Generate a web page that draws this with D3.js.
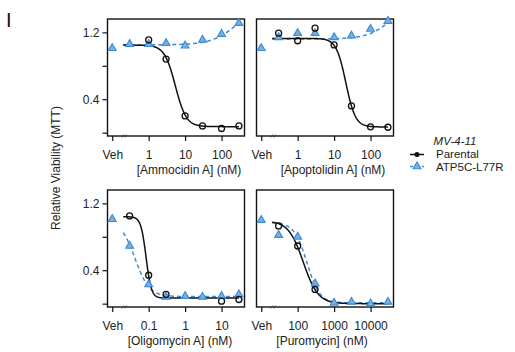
<!DOCTYPE html>
<html>
<head>
<meta charset="utf-8">
<script src="https://cdn.jsdelivr.net/npm/d3@7"></script>
<style>
  html, body { margin: 0; padding: 0; background: #fff; }
  svg { display: block; font-family: "Liberation Sans", Arial, Helvetica, sans-serif; }
</style>
</head>
<body>
<svg id="chart" width="515" height="352"></svg>
<script>
// Compound names and axis titles for the four panels
const compounds = ["Ammocidin A", "Apoptolidin A", "Oligomycin A", "Puromycin"];
const axisTitles = ["[Ammocidin A] (nM)", "[Apoptolidin A] (nM)", "[Oligomycin A] (nM)", "[Puromycin] (nM)"];

// Vehicle is plotted one decade below the first labelled tick
const vehPosition = [0.1, 0.1, 0.01, 10];
const decadeTicks = [[1, 10, 100], [1, 10, 100], [0.1, 1, 10], [100, 1000, 10000]];
const decadeLabels = [["1", "10", "100"], ["1", "10", "100"], ["0.1", "1", "10"], ["100", "1000", "10000"]];

// Doses (nM)
const dosesAmmo = [0.3, 1, 3, 10, 30, 100, 300];
const dosesApop = [0.3, 1, 3, 10, 30, 100, 300];
const dosesOligo = [0.03, 0.1, 0.3, 1, 3, 10, 30];
const dosesPuro = [30, 100, 300, 1000, 3000, 10000, 30000];

// Relative viability, Parental (null = not shown)
const parentalAmmo = [null, 1.11, 0.88, 0.20, 0.08, 0.05, 0.08];
const parentalApop = [1.19, 1.10, 1.25, 1.05, 0.32, 0.07, 0.065];
const parentalOligo = [1.05, 0.34, 0.11, null, null, 0.03, 0.05];
const parentalPuro = [0.93, 0.69, 0.17, null, null, null, null];

// Relative viability, ATP5C-L77R
const mutantAmmo = [1.06, 1.06, 1.07, 1.04, 1.11, 1.18, 1.31];
const mutantApop = [1.14, 1.19, 1.19, 1.14, 1.16, 1.24, 1.335];
const mutantOligo = [0.69, 0.23, 0.08, 0.09, 0.08, 0.09, 0.11];
const mutantPuro = [0.82, 0.80, 0.24, 0.01, 0.02, 0.00, 0.02];

// Vehicle-treated ATP5C-L77R
const mutantVeh = [1.01, 1.01, 1.01, 1.00];

// Four-parameter logistic fits: [low-dose response, high-dose response, IC50 (nM), Hill slope]
const fitParental = [
  [1.048, 0.072, 5.4, 2.9],
  [1.128, 0.068, 21, 3.3],
  [1.04, 0.067, 0.085, 6],
  [0.99, 0.0, 143, 2.15]
];
const fitMutant = [
  [1.05, 1.58, 300, 1.2],
  [1.12, 1.6, 400, 1.3],
  [1.0, 0.085, 0.042, 2.2],
  [0.97, 0.01, 180, 2.5]
];

// Y axis ticks
const yTicks = [0, 0.4, 0.8, 1.2];
const yTickLabels = ["", "0.4", "", "1.2"];

const doses = [dosesAmmo, dosesApop, dosesOligo, dosesPuro];
const parental = [parentalAmmo, parentalApop, parentalOligo, parentalPuro];
const mutant = [mutantAmmo, mutantApop, mutantOligo, mutantPuro];

const BLUE = "#3f8cd4";
const svg = d3.select("#chart");

const panelW = 137, panelH = 117;
const colX = [107.5, 256.5];
const rowY = [19, 190];
const titleDx = [13, 8, 4, -3];

function logistic(p, x) {
  const [a, d, c, b] = p;
  return d + (a - d) / (1 + Math.pow(x / c, b));
}

compounds.forEach((name, i) => {
  const x0 = colX[i % 2], y0 = rowY[Math.floor(i / 2)];
  const g = svg.append("g").attr("transform", `translate(${x0},${y0})`);
  const veh = vehPosition[i];

  const x = d3.scaleLog()
    .domain([veh * Math.pow(10, -0.13), veh * Math.pow(10, 3.63)])
    .range([0, panelW]);
  const y = d3.scaleLinear().domain([-0.04, 1.36]).range([panelH, 0]);

  // Frame
  g.append("rect")
    .attr("x", 0).attr("y", 0).attr("width", panelW).attr("height", panelH)
    .attr("fill", "none").attr("stroke", "#111").attr("stroke-width", 1.4);

  // Y axis
  const yAxis = d3.axisLeft(y).tickValues(yTicks).tickSize(5).tickPadding(3)
    .tickFormat((d, k) => (i % 2 === 0 ? yTickLabels[k] : ""));
  const ya = g.append("g").call(yAxis);
  ya.select(".domain").remove();
  ya.selectAll("line").attr("stroke", "#111").attr("stroke-width", 1.2);
  ya.selectAll("text").attr("font-size", 12).attr("fill", "#222").attr("font-family", null);
  if (i % 2 === 1) ya.selectAll("line").remove();

  // X axis
  const tv = [veh].concat(decadeTicks[i]);
  const tl = ["Veh"].concat(decadeLabels[i]);
  const xAxis = d3.axisBottom(x).tickValues(tv).tickSize(5).tickPadding(9)
    .tickFormat((d, k) => tl[k]);
  const xa = g.append("g").attr("transform", `translate(0,${panelH})`).call(xAxis);
  xa.select(".domain").remove();
  xa.selectAll("line").attr("stroke", "#111").attr("stroke-width", 1.2);
  xa.selectAll("text").attr("font-size", 12).attr("fill", "#222").attr("font-family", null);

  // Axis break mark between Veh and the dose range
  const bx = x(veh) + 11;
  [0, 3].forEach(off => {
    g.append("line")
      .attr("x1", bx + off - 1.5).attr("y1", panelH + 1.5)
      .attr("x2", bx + off + 0.5).attr("y2", panelH - 1.5)
      .attr("stroke", "#333").attr("stroke-width", 0.8);
  });

  // X axis title
  g.append("text")
    .attr("x", panelW / 2 + titleDx[i]).attr("y", panelH + 38)
    .attr("text-anchor", "middle").attr("font-size", 12).attr("fill", "#222")
    .text(axisTitles[i]);

  // Fitted curves
  const xs = d3.range(0, 301).map(k => {
    const lo = Math.log10(veh * 2), hi = Math.log10(doses[i][doses[i].length - 1]);
    return Math.pow(10, lo + (hi - lo) * k / 300);
  });
  const line = d3.line().x(d => x(d[0])).y(d => y(d[1])).curve(d3.curveLinear);

  g.append("path")
    .datum(xs.map(d => [d, logistic(fitMutant[i], d)]))
    .attr("d", line).attr("fill", "none")
    .attr("stroke", BLUE).attr("stroke-width", 1.5).attr("stroke-dasharray", "4,3");

  g.append("path")
    .datum(xs.map(d => [d, logistic(fitParental[i], d)]))
    .attr("d", line).attr("fill", "none")
    .attr("stroke", "#111").attr("stroke-width", 1.5);

  // ATP5C-L77R points (incl. vehicle)
  const triPts = [[veh, mutantVeh[i]]].concat(doses[i].map((d, k) => [d, mutant[i][k]]))
    .filter(d => d[1] !== null);
  g.selectAll(".tri").data(triPts).enter().append("path")
    .attr("d", d3.symbol().type(d3.symbolTriangle).size(26))
    .attr("transform", d => `translate(${x(d[0])},${y(d[1])})`)
    .attr("fill", "#79b0e6").attr("stroke", BLUE).attr("stroke-width", 1.2);

  // Parental points
  const cirPts = doses[i].map((d, k) => [d, parental[i][k]]).filter(d => d[1] !== null);
  g.selectAll(".cir").data(cirPts).enter().append("circle")
    .attr("cx", d => x(d[0])).attr("cy", d => y(d[1])).attr("r", 3)
    .attr("fill", "none").attr("stroke", "#111").attr("stroke-width", 1.3);
});

// Shared y title
svg.append("text")
  .attr("transform", "translate(60,168) rotate(-90)")
  .attr("text-anchor", "middle").attr("font-size", 12).attr("fill", "#222")
  .text("Relative Viability (MTT)");

// Panel letter
svg.append("text").attr("x", 6).attr("y", 27).attr("font-size", 20).attr("fill", "#111").text("I");

// Legend
const lg = svg.append("g");
lg.append("text").attr("x", 455).attr("y", 145).attr("text-anchor", "middle")
  .attr("font-size", 11.5).attr("font-style", "italic").attr("fill", "#222").text("MV-4-11");
lg.append("line").attr("x1", 410).attr("x2", 424).attr("y1", 154.5).attr("y2", 154.5)
  .attr("stroke", "#111").attr("stroke-width", 1.5);
lg.append("circle").attr("cx", 417).attr("cy", 154.5).attr("r", 2.5).attr("fill", "#111");
lg.append("text").attr("x", 436).attr("y", 158).attr("font-size", 11.5).attr("fill", "#222").text("Parental");
lg.append("line").attr("x1", 410).attr("x2", 424).attr("y1", 166.5).attr("y2", 166.5)
  .attr("stroke", BLUE).attr("stroke-width", 1.5).attr("stroke-dasharray", "3,3");
lg.append("path").attr("d", d3.symbol().type(d3.symbolTriangle).size(26))
  .attr("transform", "translate(417,166.5)").attr("fill", "#79b0e6").attr("stroke", BLUE).attr("stroke-width", 1.2);
lg.append("text").attr("x", 436).attr("y", 170.5).attr("font-size", 11.5).attr("fill", "#222").text("ATP5C-L77R");
</script>
</body>
</html>
